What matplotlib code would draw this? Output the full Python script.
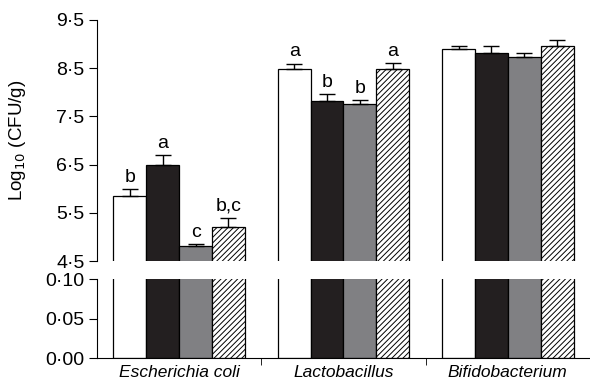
import numpy as np
import matplotlib.pyplot as plt

plt.rcParams['font.family'] = ['Liberation Sans', 'DejaVu Sans']
plt.rcParams['hatch.linewidth'] = 0.7

groups = ['Escherichia coli', 'Lactobacillus', 'Bifidobacterium']
means = [
    [5.85, 8.48, 8.89],   # white
    [6.50, 7.81, 8.82],   # black
    [4.82, 7.76, 8.74],   # grey
    [5.20, 8.48, 8.97],   # hatched
]
errs = [
    [0.14, 0.11, 0.07],
    [0.20, 0.15, 0.15],
    [0.03, 0.08, 0.07],
    [0.19, 0.13, 0.12],
]
letters = [
    ['b', 'a', ''],
    ['a', 'b', ''],
    ['c', 'b', ''],
    ['b,c', 'a', ''],
]
colors = ['white', '#231f20', '#808083', 'white']
hatches = [None, None, None, '//////']
top_ticks = [4.5, 5.5, 6.5, 7.5, 8.5, 9.5]
bot_ticks = [0.0, 0.05, 0.10]

fig = plt.figure(figsize=(5.9, 3.86), dpi=100)
ax_top = fig.add_axes([0.1644, 0.3238, 0.8356, 0.6244])
ax_bot = fig.add_axes([0.1644, 0.0725, 0.8356, 0.2047])

x = np.arange(len(groups))
w = 0.2
for i in range(4):
    pos = x + (i - 1.5) * w
    for ax in (ax_top, ax_bot):
        ax.bar(pos, means[i], w, color=colors[i], edgecolor='black',
               linewidth=0.9, hatch=hatches[i], zorder=2)
    ax_top.errorbar(pos, means[i], yerr=[np.zeros(3), errs[i]], fmt='none',
                    ecolor='black', elinewidth=1, capsize=6, capthick=1, zorder=3)
    for j in range(3):
        if letters[i][j]:
            ax_top.text(pos[j], means[i][j] + errs[i][j] + 0.07, letters[i][j],
                        ha='center', va='bottom', fontsize=14)

def fmt(v, nd):
    return f'{v:.{nd}f}'.replace('.', '\u00b7')

ax_top.set_ylim(4.5, 9.5)
ax_top.set_yticks(top_ticks)
ax_top.set_yticklabels([fmt(v, 1) for v in top_ticks])
ax_bot.set_ylim(0, 0.10)
ax_bot.set_yticks(bot_ticks)
ax_bot.set_yticklabels([fmt(v, 2) for v in bot_ticks])

for ax in (ax_top, ax_bot):
    ax.set_xlim(-0.5, 2.5)
    ax.spines['top'].set_visible(False)
    ax.spines['right'].set_visible(False)
    ax.tick_params(axis='y', direction='out', length=6, labelsize=14, pad=3)

ax_top.spines['bottom'].set_visible(False)
ax_top.set_xticks([])

ax_bot.set_xticks(x)
ax_bot.set_xticklabels(groups, fontstyle='italic', fontsize=12.5)
ax_bot.tick_params(axis='x', which='major', length=0, pad=5)
ax_bot.set_xticks([0.5, 1.5], minor=True)
ax_bot.tick_params(axis='x', which='minor', direction='out', length=5)

ax_top.set_ylabel('Log$_{10}$ (CFU/g)', fontsize=13.5, labelpad=20)

fig.savefig('out.png', dpi=100)
